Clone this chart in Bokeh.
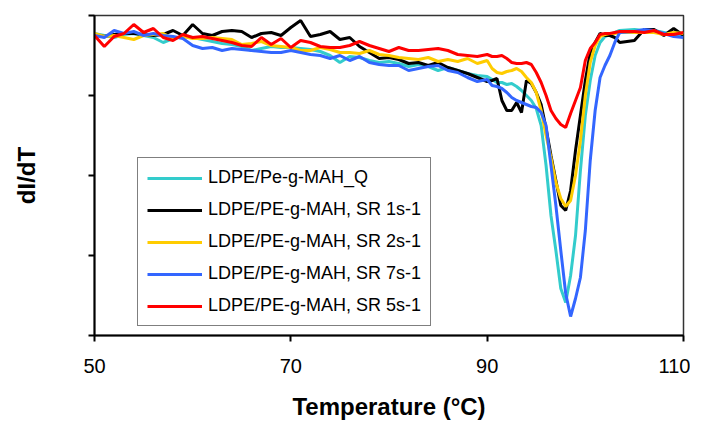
from bokeh.plotting import figure
from bokeh.models import Range1d, FixedTicker, Legend, LegendItem
from bokeh.embed import file_html
from bokeh.resources import INLINE

# Temperature grid (°C)
temperature = list(range(50, 91)) + [90.5 + 0.5 * i for i in range(27)] + [105, 106, 107, 108, 109, 110]

# dI/dT (arbitrary units)
ldpe_q = [-18, -20, -22, -19, -18, -20, -22, -27, -23, -21, -22, -24, -26, -28, -29, -31, -35, -33, -31, -32,
          -32, -33, -34, -36, -40, -47, -41, -42, -45, -47, -46, -48, -51, -49, -51, -55, -52, -55, -58, -60,
          -61,
          -64, -67, -67, -69, -68, -71, -75, -80, -85, -93, -110, -150, -200, -235, -273, -287, -260, -220,
          -155, -100, -65, -40, -27, -21, -19, -17, -15, -14,
          -15, -15, -17, -19, -19, -19]
sr1 = [-19, -21, -19, -18, -18, -19, -20, -19, -15, -20, -9, -18, -20, -16, -15, -16, -22, -18, -17, -20,
       -12, -5, -21, -19, -16, -24, -22, -31, -37, -43, -42, -44, -48, -47, -50, -47, -52, -55, -58, -62,
       -66,
       -65, -63, -85, -95, -95, -87, -97, -65, -68, -77, -89, -113, -140, -165, -190, -195, -175, -135,
       -100, -65, -37, -27, -18, -20, -20, -22, -27, -25,
       -14, -14, -20, -13, -20, -18]
sr2 = [-18, -21, -20, -22, -24, -20, -19, -18, -23, -21, -23, -23, -22, -23, -24, -29, -28, -26, -30, -31,
       -32, -35, -35, -32, -34, -37, -37, -38, -35, -39, -40, -42, -43, -44, -42, -46, -44, -46, -43, -48,
       -45,
       -53, -57, -58, -56, -55, -53, -56, -62, -67, -77, -95, -120, -142, -167, -183, -191, -185, -160,
       -125, -80, -47, -30, -21, -19, -18, -18, -17, -17,
       -17, -17, -19, -17, -18, -18]
sr7 = [-20, -22, -15, -18, -16, -20, -18, -20, -21, -23, -30, -33, -32, -35, -33, -34, -35, -36, -37, -37,
       -35, -37, -39, -40, -43, -40, -45, -41, -47, -49, -50, -50, -55, -53, -51, -50, -55, -57, -62, -66,
       -64,
       -70, -71, -73, -77, -82, -85, -87, -89, -91, -92, -97, -110, -150, -190, -235, -278, -301, -283,
       -262, -215, -145, -95, -62, -50, -40, -27, -17, -16,
       -14, -15, -18, -21, -22, -22]
sr5 = [-20, -31, -21, -18, -9, -17, -13, -22, -25, -19, -22, -21, -23, -25, -27, -30, -31, -22, -29, -23,
       -32, -25, -27, -31, -32, -32, -30, -26, -30, -33, -36, -32, -35, -35, -34, -33, -35, -39, -40, -41,
       -39,
       -41, -41, -40, -43, -47, -48, -48, -47, -49, -57, -67, -80, -95, -103, -109, -112, -98, -85,
       -72, -45, -33, -27, -19, -18, -18, -17, -16, -16,
       -17, -15, -19, -19, -17, -18]

series_names = ["LDPE/Pe-g-MAH_Q", "LDPE/PE-g-MAH, SR 1s-1", "LDPE/PE-g-MAH, SR 2s-1",
                "LDPE/PE-g-MAH, SR 7s-1", "LDPE/PE-g-MAH, SR 5s-1"]
series_values = [ldpe_q, sr1, sr2, sr7, sr5]
series_colors = ["#33CCCC", "#000000", "#FFCC00", "#3366FF", "#FF0000"]

x_ticks = [50, 70, 90, 110]
y_ticks = [-320, -240, -160, -80, 0]

FONT = "Liberation Sans"

p = figure(width=690, height=424, output_backend="svg", toolbar_location=None,
           x_range=Range1d(50, 110), y_range=Range1d(-320, 0),
           min_border_left=94, min_border_right=7, min_border_top=15, min_border_bottom=89)
p.background_fill_color = "white"
p.border_fill_color = "white"
p.outline_line_color = "#333333"
p.outline_line_width = 1.5
p.grid.visible = False

items = []
for name, vals, col in zip(series_names, series_values, series_colors):
    r = p.line(temperature, vals, line_color=col, line_width=3)
    items.append(LegendItem(label=name, renderers=[r]))

legend = Legend(items=items, location=(43, 9), orientation="vertical")
legend.label_text_font = FONT
legend.label_text_font_size = "18px"
legend.label_text_color = "black"
legend.label_height = 20
legend.glyph_height = 20
legend.glyph_width = 55
legend.label_standoff = 6
legend.spacing = 11
legend.padding = 9
legend.margin = 0
legend.border_line_color = "black"
legend.border_line_width = 1.5
legend.background_fill_color = "white"
legend.background_fill_alpha = 1.0
p.add_layout(legend, "center")

xa = p.xaxis[0]
xa.ticker = FixedTicker(ticks=x_ticks)
xa.minor_tick_line_color = None
xa.major_tick_out = 6
xa.major_tick_in = 0
xa.major_tick_line_width = 2
xa.axis_line_width = 2
xa.axis_line_color = "black"
xa.major_label_text_font = FONT
xa.major_label_text_font_size = "20px"
xa.major_label_text_color = "black"
xa.major_label_standoff = 17
xa.axis_label = "Temperature (°C)"
xa.axis_label_text_font = FONT
xa.axis_label_text_font_style = "bold"
xa.axis_label_text_font_size = "24px"
xa.axis_label_text_color = "black"
xa.axis_label_standoff = 17

ya = p.yaxis[0]
ya.ticker = FixedTicker(ticks=y_ticks)
ya.minor_tick_line_color = None
ya.major_tick_out = 6
ya.major_tick_in = 0
ya.major_tick_line_width = 2
ya.axis_line_width = 2
ya.axis_line_color = "black"
ya.major_label_text_font_size = "1px"
ya.major_label_text_color = None
ya.axis_label = "dI/dT"
ya.axis_label_text_font = FONT
ya.axis_label_text_font_style = "bold"
ya.axis_label_text_font_size = "24px"
ya.axis_label_text_color = "black"
ya.axis_label_standoff = 49

open("out.html", "w").write(file_html(p, INLINE))
